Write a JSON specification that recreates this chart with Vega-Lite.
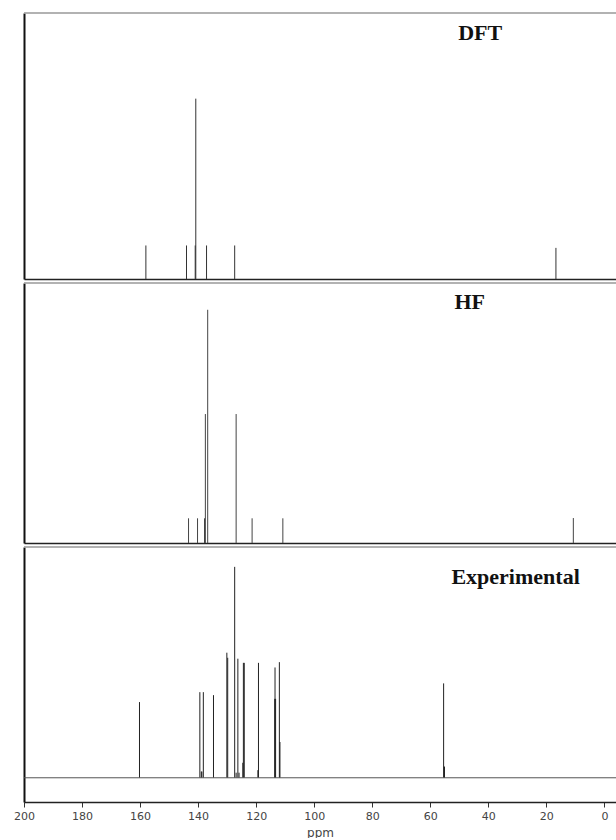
{
  "$schema": "https://vega.github.io/schema/vega-lite/v6.json",
  "padding": {"left": 13, "top": 12, "right": 0, "bottom": 0},
  "spacing": 2,
  "background": "white",
  "config": {
    "view": {"stroke": null},
    "axis": {"grid": false, "title": null},
    "axisY": {"minExtent": 0, "maxExtent": 0}
  },
  "datasets": {
    "dft": [
      {"ppm": 158.0, "intensity": 12.6},
      {"ppm": 144.0, "intensity": 12.6},
      {"ppm": 141.0, "intensity": 12.6},
      {"ppm": 140.8, "intensity": 67.8},
      {"ppm": 137.1, "intensity": 12.6},
      {"ppm": 127.4, "intensity": 12.6},
      {"ppm": 16.7, "intensity": 11.7}
    ],
    "hf": [
      {"ppm": 143.3, "intensity": 9.5},
      {"ppm": 140.2, "intensity": 9.5},
      {"ppm": 137.8, "intensity": 9.5},
      {"ppm": 137.5, "intensity": 49.6},
      {"ppm": 136.7, "intensity": 89.7},
      {"ppm": 126.9, "intensity": 49.6},
      {"ppm": 121.4, "intensity": 9.5},
      {"ppm": 110.8, "intensity": 9.5},
      {"ppm": 10.7, "intensity": 9.6}
    ],
    "exp": [
      {"ppm": 160.2, "intensity": 32.8},
      {"ppm": 139.4, "intensity": 37.1},
      {"ppm": 138.9, "intensity": 2.7},
      {"ppm": 138.7, "intensity": 2.7},
      {"ppm": 138.2, "intensity": 37.1},
      {"ppm": 134.7, "intensity": 35.8},
      {"ppm": 130.1, "intensity": 54.2},
      {"ppm": 129.8, "intensity": 52.0},
      {"ppm": 127.4, "intensity": 91.4},
      {"ppm": 126.9, "intensity": 2.2},
      {"ppm": 126.3, "intensity": 51.6},
      {"ppm": 125.9, "intensity": 2.2},
      {"ppm": 124.6, "intensity": 6.5},
      {"ppm": 124.4, "intensity": 49.8},
      {"ppm": 124.1, "intensity": 49.8},
      {"ppm": 119.4, "intensity": 3.3},
      {"ppm": 119.2, "intensity": 49.8},
      {"ppm": 113.6, "intensity": 34.2},
      {"ppm": 113.5, "intensity": 47.8},
      {"ppm": 113.3, "intensity": 34.2},
      {"ppm": 112.0, "intensity": 50.1},
      {"ppm": 111.8, "intensity": 15.5},
      {"ppm": 55.4, "intensity": 40.9},
      {"ppm": 55.2, "intensity": 4.8},
      {"ppm": 55.1, "intensity": 4.8}
    ]
  },
  "vconcat": [
    {
      "width": 592,
      "height": 266,
      "layer": [
        {
          "data": {"name": "dft"},
          "mark": {"type": "rule", "color": "#333", "strokeWidth": 1},
          "encoding": {
            "x": {"field": "ppm", "type": "quantitative",
                  "scale": {"domain": [200, -4], "nice": false, "zero": false},
                  "axis": {"labels": false, "ticks": false, "domain": true, "domainColor": "#222", "domainWidth": 1.5}},
            "y": {"field": "intensity", "type": "quantitative",
                  "scale": {"domain": [0, 100], "nice": false, "zero": false},
                  "axis": {"labels": false, "ticks": false, "domain": true, "domainColor": "#111", "domainWidth": 2}},
            "y2": {"datum": 0}
          }
        },
        {
          "data": {"values": [{}]},
          "mark": {"type": "rule", "color": "#999", "strokeWidth": 1.5},
          "encoding": {"x": {"datum": 200}, "x2": {"datum": -4}, "y": {"datum": 100}}
        },
        {
          "data": {"values": [{}]},
          "mark": {"type": "text", "font": "Liberation Serif", "fontWeight": "bold", "fontSize": 22, "color": "#111", "align": "center", "baseline": "middle"},
          "encoding": {"x": {"datum": 42.8}, "y": {"datum": 92.5}, "text": {"value": "DFT"}}
        }
      ]
    },
    {
      "width": 592,
      "height": 260,
      "layer": [
        {
          "data": {"name": "hf"},
          "mark": {"type": "rule", "color": "#444", "strokeWidth": 1},
          "encoding": {
            "x": {"field": "ppm", "type": "quantitative",
                  "scale": {"domain": [200, -4], "nice": false, "zero": false},
                  "axis": {"labels": false, "ticks": false, "domain": true, "domainColor": "#222", "domainWidth": 1.5}},
            "y": {"field": "intensity", "type": "quantitative",
                  "scale": {"domain": [0, 100], "nice": false, "zero": false},
                  "axis": {"labels": false, "ticks": false, "domain": true, "domainColor": "#111", "domainWidth": 2}},
            "y2": {"datum": 0}
          }
        },
        {
          "data": {"values": [{}]},
          "mark": {"type": "rule", "color": "#999", "strokeWidth": 1.5},
          "encoding": {"x": {"datum": 200}, "x2": {"datum": -4}, "y": {"datum": 100}}
        },
        {
          "data": {"values": [{}]},
          "mark": {"type": "text", "font": "Liberation Serif", "fontWeight": "bold", "fontSize": 22, "color": "#111", "align": "center", "baseline": "middle"},
          "encoding": {"x": {"datum": 46.4}, "y": {"datum": 92.6}, "text": {"value": "HF"}}
        }
      ]
    },
    {
      "width": 592,
      "height": 255,
      "layer": [
        {
          "data": {"name": "exp"},
          "mark": {"type": "rule", "color": "#222", "strokeWidth": 1},
          "encoding": {
            "x": {"field": "ppm", "type": "quantitative", "title": "ppm",
                  "scale": {"domain": [200, -4], "nice": false, "zero": false},
                  "axis": {"values": [200, 190, 180, 170, 160, 150, 140, 130, 120, 110, 100, 90, 80, 70, 60, 50, 40, 30, 20, 10, 0],
                           "labelExpr": "datum.value % 20 == 0 ? datum.label : ''",
                           "format": "d",
                           "domain": true, "domainColor": "#222", "domainWidth": 1.5,
                           "ticks": true, "tickColor": "#333", "tickSize": 5, "tickWidth": 1,
                           "labelFont": "DejaVu Sans", "labelFontSize": 11, "labelColor": "#444", "labelPadding": 3,
                           "labelFlush": false, "labelOverlap": false,
                           "title": "ppm", "titleFont": "DejaVu Sans", "titleFontSize": 12, "titleFontWeight": "normal", "titleColor": "#444", "titlePadding": 6}},
            "y": {"field": "intensity", "type": "quantitative",
                  "scale": {"domain": [-10.5, 100], "nice": false, "zero": false},
                  "axis": {"labels": false, "ticks": false, "domain": true, "domainColor": "#111", "domainWidth": 2}},
            "y2": {"datum": 0}
          }
        },
        {
          "data": {"values": [{}]},
          "mark": {"type": "rule", "color": "#555", "strokeWidth": 1},
          "encoding": {"x": {"datum": 200}, "x2": {"datum": -4}, "y": {"datum": 0}}
        },
        {
          "data": {"values": [{}]},
          "mark": {"type": "rule", "color": "#999", "strokeWidth": 1.5},
          "encoding": {"x": {"datum": 200}, "x2": {"datum": -4}, "y": {"datum": 100}}
        },
        {
          "data": {"values": [{}]},
          "mark": {"type": "text", "font": "Liberation Serif", "fontWeight": "bold", "fontSize": 22, "color": "#111", "align": "center", "baseline": "middle"},
          "encoding": {"x": {"datum": 30.6}, "y": {"datum": 86.8}, "text": {"value": "Experimental"}}
        }
      ]
    }
  ]
}
